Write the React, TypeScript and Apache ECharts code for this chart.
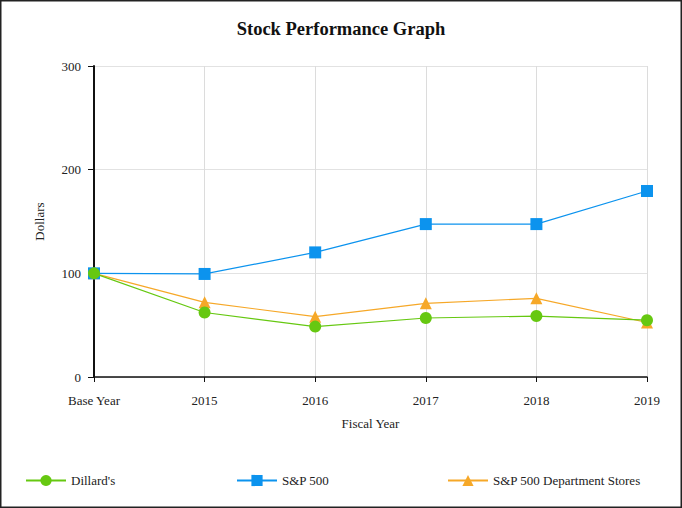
import React, { useEffect, useRef } from "react";
import * as echarts from "echarts";

const categories = ["Base Year", "2015", "2016", "2017", "2018", "2019"];
const dillards = [100, 62.2, 48.6, 56.9, 58.8, 54.8];
const sp500 = [100, 99.4, 120.2, 147.5, 147.5, 179.4];
const deptStores = [100, 72.0, 58.2, 71.1, 75.9, 52.6];
const yTicks = { min: 0, max: 300, interval: 100 };

const FONT = "'Liberation Serif', 'Times New Roman', serif";
const GREEN = "#66C811";
const BLUE = "#0C93EE";
const ORANGE = "#F6A828";

export default function App() {
  const ref = useRef<HTMLDivElement>(null);
  useEffect(() => {
    document.body.style.margin = "0";
    const chart = echarts.init(ref.current!, undefined, { renderer: "svg" });
    const legendBase = {
      top: 469,
      itemWidth: 40,
      itemHeight: 14,
      textStyle: { fontFamily: FONT, fontSize: 13, color: "#222" },
      itemGap: 10,
    };
    chart.setOption({
      animation: false,
      backgroundColor: "#fff",
      textStyle: { fontFamily: FONT },
      title: {
        text: "Stock Performance Graph",
        left: "center",
        top: 14,
        textStyle: { fontFamily: FONT, fontSize: 18.5, fontWeight: "bold", color: "#111" },
      },
      grid: { left: 94, right: 35, top: 66, bottom: 131, containLabel: false },
      legend: [
        { ...legendBase, left: 20, data: ["Dillard's"] },
        { ...legendBase, left: 231, data: ["S&P 500"] },
        { ...legendBase, left: 442, data: ["S&P 500 Department Stores"] },
      ],
      xAxis: {
        type: "category",
        data: categories,
        boundaryGap: false,
        name: "Fiscal Year",
        nameLocation: "middle",
        nameGap: 40,
        nameTextStyle: { fontFamily: FONT, fontSize: 13, color: "#222" },
        axisLine: { lineStyle: { color: "#111", width: 1.5 } },
        axisTick: { show: true, length: 5, lineStyle: { color: "#111" } },
        axisLabel: { fontFamily: FONT, fontSize: 13, color: "#222", margin: 17 },
        splitLine: { show: true, lineStyle: { color: "#dcdcdc" } },
      },
      yAxis: {
        type: "value",
        min: yTicks.min,
        max: yTicks.max,
        interval: yTicks.interval,
        name: "Dollars",
        nameLocation: "middle",
        nameGap: 48,
        nameTextStyle: { fontFamily: FONT, fontSize: 13, color: "#222" },
        axisLine: { show: true, lineStyle: { color: "#111", width: 2 } },
        axisTick: { show: true, length: 6, lineStyle: { color: "#111" } },
        axisLabel: { fontFamily: FONT, fontSize: 13, color: "#222", margin: 13 },
        splitLine: { show: true, lineStyle: { color: "#e2e2e2" } },
      },
      series: [
        {
          name: "Dillard's",
          type: "line",
          data: dillards,
          symbol: "circle",
          symbolSize: 12,
          z: 4,
          itemStyle: { color: GREEN },
          lineStyle: { color: GREEN, width: 1.2 },
        },
        {
          name: "S&P 500",
          type: "line",
          data: sp500,
          symbol: "rect",
          symbolSize: 12,
          z: 3,
          itemStyle: { color: BLUE },
          lineStyle: { color: BLUE, width: 1.2 },
        },
        {
          name: "S&P 500 Department Stores",
          type: "line",
          data: deptStores,
          symbol: "triangle",
          symbolSize: 12,
          z: 2,
          itemStyle: { color: ORANGE },
          lineStyle: { color: ORANGE, width: 1.2 },
        },
      ],
      graphic: [
        {
          type: "rect",
          shape: { x: 0.75, y: 0.75, width: 680.5, height: 506.5 },
          style: { fill: "none", stroke: "#222", lineWidth: 1.5 },
          silent: true,
        },
      ],
    });
    return () => chart.dispose();
  }, []);
  return <div ref={ref} style={{ width: 682, height: 508 }} />;
}
